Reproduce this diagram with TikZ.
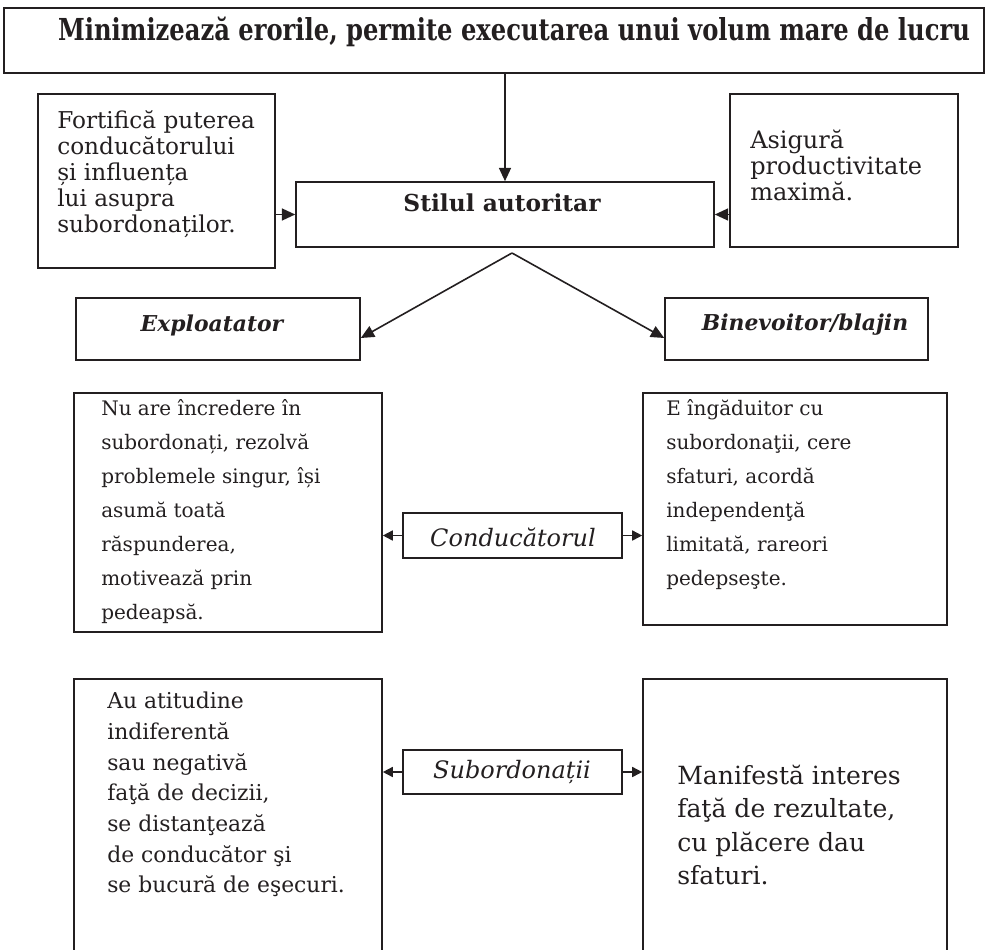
\documentclass[tikz,border=0pt]{standalone}
\usepackage{fontspec}
\setmainfont{DejaVu Serif}
\newfontfamily\titlefont[FakeStretch=0.8]{DejaVu Serif}
\usetikzlibrary{arrows.meta,fit,calc}
\definecolor{ink}{HTML}{231F20}
\tikzset{
  box/.style={draw=ink, line width=1.2pt, inner sep=0pt, rectangle},
  para/.style={inner sep=0pt, anchor=north west, align=left, text=ink},
  label/.style={inner sep=0pt, text=ink},
  arr/.style={draw=ink, line width=1.2pt, -{Triangle[length=10pt,width=9pt]}},
  sarr/.style={draw=ink, line width=1.2pt, -{Triangle[length=7.5pt,width=7.5pt]}},
  midfont/.style={font=\fontsize{15pt}{25.5pt}\selectfont},
  itlabel/.style={label, font=\itshape\fontsize{18pt}{20pt}\selectfont},
  bilabel/.style={label, font=\bfseries\itshape\fontsize{16.4pt}{20pt}\selectfont},
}
\begin{document}
\begin{tikzpicture}[x=0.75pt,y=-0.75pt]
\useasboundingbox (0,0) rectangle (987,949);
\clip (0,0) rectangle (987,949);

% goal box
\node[box, fit={(4,8)(984,73)}] (goal) {};
\node[label, font=\titlefont\bfseries\fontsize{22.7pt}{25pt}\selectfont] (goaltxt) at (514,32)
  {Minimizează erorile, permite executarea unui volum mare de lucru};

% side boxes
\node[box, fit={(38,94)(275,268)}] (fort) {};
\node[para, font=\fontsize{17.4pt}{19.5pt}\selectfont] (forttxt) at (57,110)
  {Fortifică puterea\\conducătorului\\și influența\\lui asupra\\subordonaților.};
\node[box, fit={(730,94)(958,247)}] (asig) {};
\node[para, font=\fontsize{18pt}{19.4pt}\selectfont] (asigtxt) at (750,130)
  {Asigură\\productivitate\\maximă.};

% central style box
\node[box, fit={(296,182)(714,247)}] (stil) {};
\node[label, font=\bfseries\fontsize{17.5pt}{20pt}\selectfont] (stiltxt) at (502,203) {Stilul autoritar};

% two variants
\node[box, fit={(76,298)(360,360)}] (expl) {};
\node[bilabel] (expltxt) at (212,325) {Exploatator};
\node[box, fit={(665,298)(928,360)}] (binev) {};
\node[bilabel] (binevtxt) at (805,325) {Binevoitor/blajin};

% leader row
\node[box, fit={(74,393)(382,632)}] (nuare) {};
\node[para, midfont] (nuaretxt) at (101,399)
  {Nu are încredere în\\subordonați, rezolvă\\problemele singur, își\\asumă toată\\răspunderea,\\motivează prin\\pedeapsă.};
\node[box, fit={(643,393)(947,625)}] (ingad) {};
\node[para, midfont] (ingadtxt) at (666,399)
  {E îngăduitor cu\\subordonaţii, cere\\sfaturi, acordă\\independenţă\\limitată, rareori\\pedepseşte.};
\node[box, fit={(403,513)(622,558)}] (cond) {};
\node[itlabel] (condtxt) at (513,537) {Conducătorul};

% subordinates row
\node[box, fit={(74,679)(382,975)}] (atit) {};
\node[para, font=\fontsize{16.4pt}{23pt}\selectfont] (atittxt) at (107,692)
  {Au atitudine\\indiferentă\\sau negativă\\faţă de decizii,\\se distanţează\\de conducător şi\\se bucură de eşecuri.};
\node[box, fit={(643,679)(947,975)}] (manif) {};
\node[para, font=\fontsize{18.8pt}{25pt}\selectfont] (maniftxt) at (677,765)
  {Manifestă interes\\faţă de rezultate,\\cu plăcere dau\\sfaturi.};
\node[box, fit={(403,750)(622,794)}] (subo) {};
\node[itlabel] (subotxt) at (512,772) {Subordonații};

% connectors
\draw[arr] (goal.south -| stil.north) -- (stil.north);
\draw[arr] (fort.east |- stil.west) -- (stil.west);
\draw[arr] (asig.west |- stil.east) -- (stil.east);
\coordinate (split) at (512,253);
\draw[arr] (split) -- ($(expl.east)+(0,9)$);
\draw[arr] (split) -- ($(binev.west)+(0,9)$);
\draw[sarr] (cond.west) -- (cond.west -| nuare.east);
\draw[sarr] (cond.east) -- (cond.east -| ingad.west);
\draw[sarr] (subo.west) -- (subo.west -| atit.east);
\draw[sarr] (subo.east) -- (subo.east -| manif.west);
\end{tikzpicture}
\end{document}
